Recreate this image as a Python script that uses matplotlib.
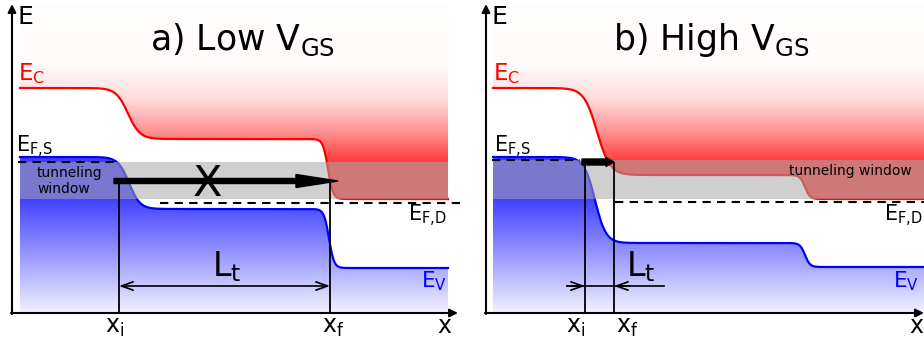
import numpy as np
import matplotlib
matplotlib.use("Agg")
import matplotlib.pyplot as plt
from matplotlib.patches import Polygon

plt.rcParams["font.family"] = ["DejaVu Sans"]
plt.rcParams["mathtext.default"] = "regular"

# panel extents (figure pixel coords, y grows downwards)
panel_x0 = [20, 493]
panel_x1 = [448, 924]
axis_x = [12, 486]
axis_end = [458, 924]
axis_y = 313

# band profiles: flat levels joined by smooth steps (center, width)
ec_levels = [[88, 139, 199], [88, 175, 199]]
ec_centers = [[128, 328], [597, 805]]
ec_widths = [[12, 5], [13, 5]]
ev_levels = [[157, 209, 268], [157, 243, 267]]
ev_centers = [[129, 329], [595, 805]]
ev_widths = [[11, 5], [11, 5]]

# tunneling window and fermi levels
win_top = [162, 160]
win_bot = [199, 199]
efs_y = [162, 160]
efs_x = [(18, 115), (492, 580)]
efd_y = [203, 202]
efd_x = [(160, 460), (615, 924)]

# tunneling arrow, x_i / x_f markers
arrow_x = [(114, 338), (582, 614)]
arrow_y = [181, 162]
xi = [119, 585]
xf = [330, 614]
mark_top = [181, 163]
lt_y = 286

titles = [r"a) Low V$_{GS}$", r"b) High V$_{GS}$"]
title_x = [150, 613]


def band(x, levels, centers, widths):
    y = np.full_like(x, levels[0], dtype=float)
    for k in range(len(centers)):
        y += (levels[k + 1] - levels[k]) * 0.5 * (1 + np.tanh((x - centers[k]) / widths[k]))
    return y


def red_col(y):
    t = np.interp(y, [3, 65, 100, 130, 160], [0.01, 0.02, 0.2, 0.55, 1.0])[:, None]
    return (1 - t) * np.array([1, 1, 1]) + t * np.array([1.0, 0.25, 0.25])


def blue_col(y):
    t = np.interp(y, [150, 198, 313], [0, 0, 1])[:, None]
    return (1 - t) * np.array([0.25, 0.25, 1.0]) + t * np.array([0.95, 0.95, 1.0])


def grad_fill(ax, x0, x1, ytop, ybot, colfun, verts):
    ys = np.linspace(ytop, ybot, 400)
    img = np.repeat(colfun(ys)[:, None, :], 2, axis=1)
    im = ax.imshow(img, extent=(x0, x1, ytop, ybot), origin="lower",
                   aspect="auto", interpolation="bilinear", zorder=1)
    poly = Polygon(verts, closed=True, facecolor="none", edgecolor="none")
    ax.add_patch(poly)
    im.set_clip_path(poly)


fig = plt.figure(figsize=(9.24, 3.45), dpi=100)
ax = fig.add_axes([0, 0, 1, 1])

for p in range(2):
    x0, x1 = panel_x0[p], panel_x1[p]
    xs = np.linspace(x0, x1, 600)
    ec = band(xs, ec_levels[p], ec_centers[p], ec_widths[p])
    ev = band(xs, ev_levels[p], ev_centers[p], ev_widths[p])

    # conduction band fill (above Ec) and valence band fill (below Ev)
    red_verts = np.vstack([np.column_stack([xs, ec]), [[x1, 3], [x0, 3]]])
    grad_fill(ax, x0, x1, 3, 200, red_col, red_verts)
    blue_verts = np.vstack([np.column_stack([xs, ev]), [[x1, axis_y], [x0, axis_y]]])
    grad_fill(ax, x0, x1, 150, axis_y, blue_col, blue_verts)

    ax.plot(xs, ec, color="#ff0000", lw=1.6, zorder=2)
    ax.plot(xs, ev, color="#0000ff", lw=1.6, zorder=2)

    # tunneling window
    ax.fill_between([x0, x1], win_top[p], win_bot[p], color=(0.66, 0.66, 0.66),
                    alpha=0.55, lw=0, zorder=3)

    # fermi levels
    ax.plot(efs_x[p], [efs_y[p]] * 2, color="k", lw=1.5, ls=(0, (4, 3)), zorder=4)
    ax.plot(efd_x[p], [efd_y[p]] * 2, color="k", lw=1.5, ls=(0, (4, 3)), zorder=4)

    # axes with arrows
    ax.annotate("", xy=(axis_x[p], 4), xytext=(axis_x[p], axis_y + 1),
                arrowprops=dict(arrowstyle="-|>", lw=1.5, color="k", shrinkA=0, shrinkB=0,
                                mutation_scale=12), zorder=5)
    ax.annotate("", xy=(axis_end[p], axis_y), xytext=(axis_x[p] - 1, axis_y),
                arrowprops=dict(arrowstyle="-|>", lw=1.5, color="k", shrinkA=0, shrinkB=0,
                                mutation_scale=12), zorder=5)

    # x_i, x_f markers
    for xv in (xi[p], xf[p]):
        ax.plot([xv, xv], [mark_top[p], axis_y], color="k", lw=1.3, zorder=4)

    ax.text(axis_x[p] + 5, 24, "E", fontsize=18, va="baseline", zorder=6)
    ax.text(title_x[p], 50, titles[p], fontsize=25, va="baseline", zorder=6)
    ax.text(x0 - 2 if p == 0 else x0, 80, r"$E_C$", fontsize=16.5, color="#ff0000",
            va="baseline", zorder=6)
    ax.text(x0 - 4 if p == 0 else x0 + 1, 152, r"$E_{F,\!S}$", fontsize=15,
            va="baseline", zorder=6)

# tunneling arrows
ax.arrow(arrow_x[0][0], arrow_y[0], arrow_x[0][1] - arrow_x[0][0], 0, width=5,
         head_width=13, head_length=42, length_includes_head=True, color="k", zorder=5)
ax.arrow(arrow_x[1][0], arrow_y[1], arrow_x[1][1] - arrow_x[1][0], 0, width=6,
         head_width=9, head_length=8, length_includes_head=True, color="k", zorder=5)
ax.text(207, 196, "X", fontsize=31, ha="center", va="baseline", zorder=6)

# L_t dimension arrows
ax.annotate("", xy=(xf[0], lt_y), xytext=(xi[0], lt_y),
            arrowprops=dict(arrowstyle="<->,head_length=0.7,head_width=0.25", lw=1.2,
                            color="k", shrinkA=0, shrinkB=0, mutation_scale=12), zorder=5)
ax.plot([567, 664], [lt_y, lt_y], color="k", lw=1.2, zorder=5)
ax.annotate("", xy=(xi[1], lt_y), xytext=(567, lt_y),
            arrowprops=dict(arrowstyle="->,head_length=0.7,head_width=0.25", lw=1.2,
                            color="k", shrinkA=0, shrinkB=0, mutation_scale=12), zorder=5)
ax.annotate("", xy=(xf[1], lt_y), xytext=(630, lt_y),
            arrowprops=dict(arrowstyle="->,head_length=0.7,head_width=0.25", lw=1.2,
                            color="k", shrinkA=0, shrinkB=0, mutation_scale=12), zorder=5)

# labels
ax.text(212, 276, r"$L_t$", fontsize=24, va="baseline", zorder=6)
ax.text(626, 276, r"$L_t$", fontsize=24, va="baseline", zorder=6)
ax.text(408, 221, r"$E_{F,\!D}$", fontsize=15, va="baseline", zorder=6)
ax.text(884, 221, r"$E_{F,\!D}$", fontsize=15, va="baseline", zorder=6)
ax.text(421, 287, r"$E_V$", fontsize=15.5, color="#0000ff", va="baseline", zorder=6)
ax.text(893, 287, r"$E_V$", fontsize=15.5, color="#0000ff", va="baseline", zorder=6)
ax.text(37, 177, "tunneling", fontsize=10, va="baseline", zorder=6)
ax.text(37, 193, "window", fontsize=10, va="baseline", zorder=6)
ax.text(789, 175, "tunneling window", fontsize=10, va="baseline", zorder=6)

for xv, lab in [(105, r"$x_i$"), (322, r"$x_f$"), (437, "x"),
                (566, r"$x_i$"), (616, r"$x_f$"), (909, "x")]:
    ax.text(xv, 333, lab, fontsize=17, va="baseline", zorder=6)

ax.set_xlim(0, 924)
ax.set_ylim(345, 0)
ax.axis("off")

fig.savefig("out.png", dpi=100)
